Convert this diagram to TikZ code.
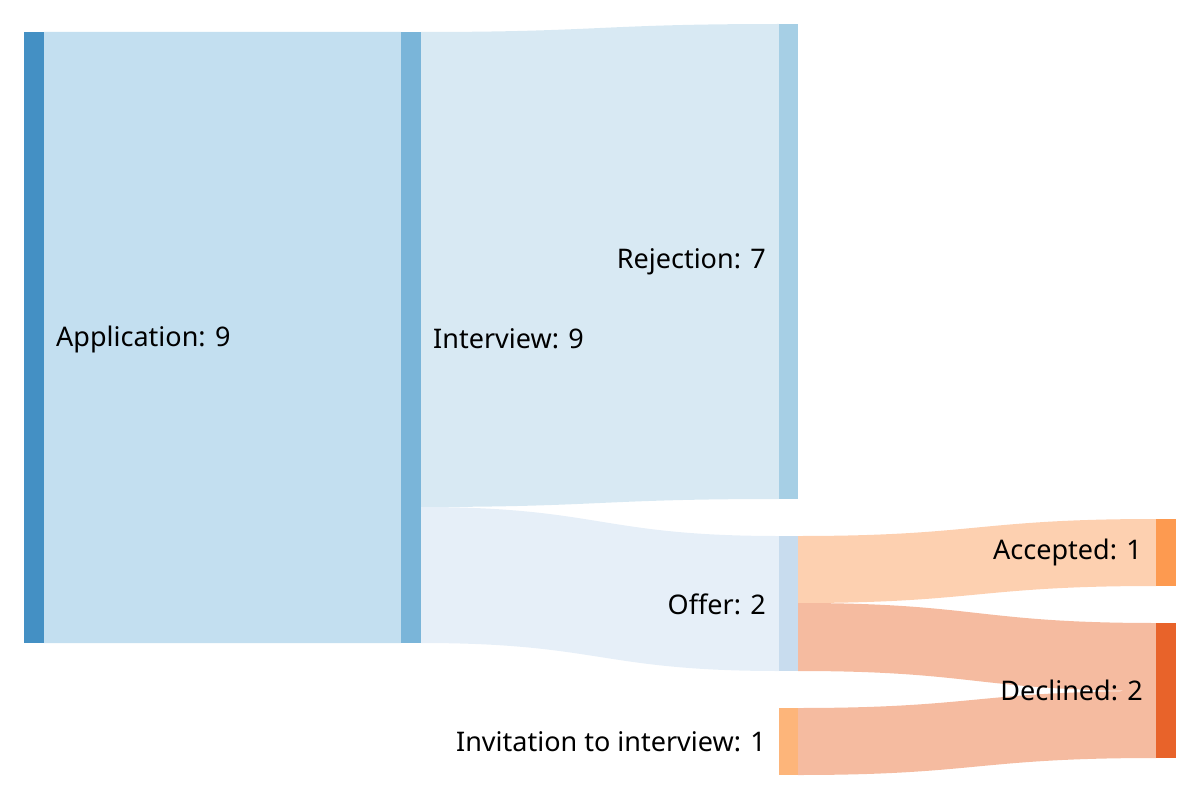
\documentclass[tikz,border=0pt]{standalone}
\usepackage{fontspec}
\setmainfont{Noto Sans}
\definecolor{appb}{HTML}{4490C4}
\definecolor{intb}{HTML}{7AB5D9}
\definecolor{rejb}{HTML}{A6CFE5}
\definecolor{offb}{HTML}{C8DCEE}
\definecolor{invb}{HTML}{FDB57A}
\definecolor{accb}{HTML}{FD9A50}
\definecolor{decb}{HTML}{E8632A}
\definecolor{fAI}{HTML}{C3DFF0}
\definecolor{fIR}{HTML}{D8E9F3}
\definecolor{fIO}{HTML}{E6EFF8}
\definecolor{fOA}{HTML}{FDD0B0}
\definecolor{fOD}{HTML}{F5BBA0}
\newcommand{\flow}[7]{% color, x1, x2, y1top, y1bot, y2top, y2bot
  \fill[#1] (#2,#4) .. controls ({(#2+#3)/2},#4) and ({(#2+#3)/2},#6) .. (#3,#6)
    -- (#3,#7) .. controls ({(#2+#3)/2},#7) and ({(#2+#3)/2},#5) .. (#2,#5) -- cycle;}
\begin{document}
\begin{tikzpicture}[x=1pt,y=-1pt,
  lbl/.style={font=\fontsize{27}{32}\selectfont, inner sep=0pt, text=black}]
\useasboundingbox (0,0) rectangle (1200,800);
\flow{fAI}{44}{401}{32}{643}{32}{643}
\flow{fIR}{421}{779}{32}{507}{24}{499}
\flow{fIO}{421}{779}{507}{643}{536}{671}
\flow{fOA}{798}{1156}{536}{603}{519}{586}
\flow{fOD}{798}{1156}{603}{671}{623}{691}
\flow{fOD}{798}{1156}{708}{775}{691}{758}
\fill[appb] (24,32) rectangle (44,643) coordinate (app);
\fill[intb] (401,32) rectangle (421,643);
\fill[rejb] (779,24) rectangle (798,499);
\fill[offb] (779,536) rectangle (798,671);
\fill[invb] (779,708) rectangle (798,775);
\fill[accb] (1156,519) rectangle (1176,586);
\fill[decb] (1156,623) rectangle (1176,758);
\node[lbl, anchor=west] (lapp) at (56,339) {Application: 9};
\node[lbl, anchor=west] (lint) at (433,339) {Interview: 9};
\node[lbl, anchor=east] (lrej) at (766,262) {Rejection: 7};
\node[lbl, anchor=east] (loff) at (766,604) {Offer: 2};
\node[lbl, anchor=east] (linv) at (766,742) {Invitation to interview: 1};
\node[lbl, anchor=east] (lacc) at (1142,552) {Accepted: 1};
\node[lbl, anchor=east] (ldec) at (1143,690) {Declined: 2};
\end{tikzpicture}
\end{document}
